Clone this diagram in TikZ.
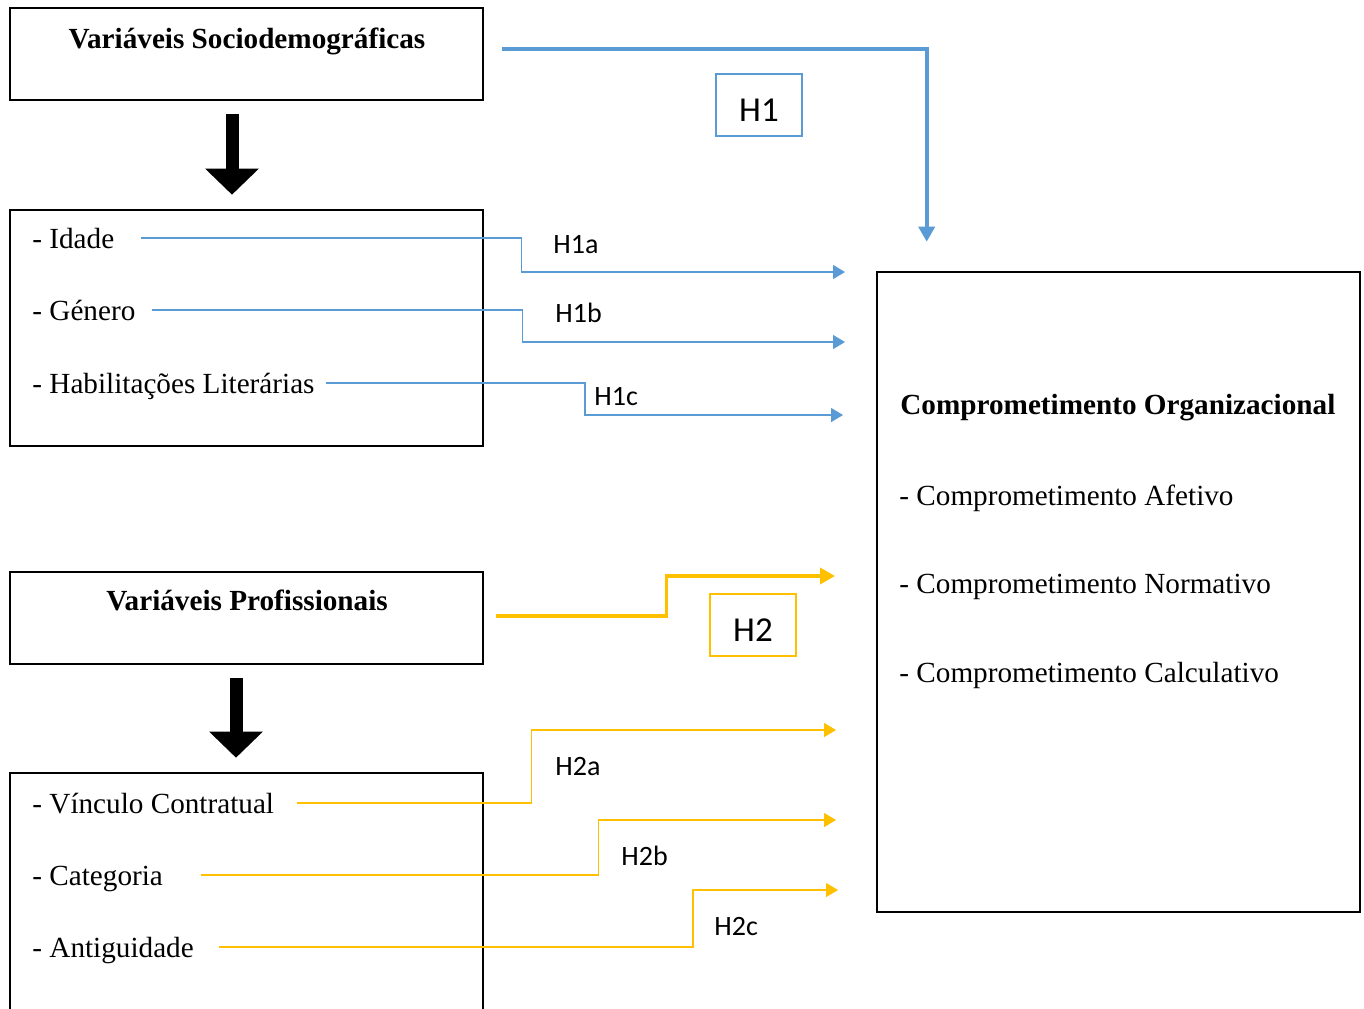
\documentclass[tikz,border=0pt]{standalone}
\usepackage{fontspec}
\setmainfont{Liberation Serif}
\newfontfamily\hypfont{Carlito}
\usetikzlibrary{arrows.meta, positioning}
\definecolor{HBlue}{HTML}{5B9BD5}
\definecolor{HGold}{HTML}{FFC000}

\begin{document}
\begin{tikzpicture}[x=0.5pt, y=-0.5pt,
  box/.style={draw=black, line width=1.3pt, minimum width=236.5pt, inner sep=0pt},
  title/.style={font=\fontsize{14.6}{17}\selectfont\bfseries, anchor=base, inner sep=0pt},
  item/.style={font=\fontsize{14.6}{17}\selectfont, anchor=west, inner sep=0pt, text height=13pt, text depth=3pt},
  hyp/.style={font=\hypfont\fontsize{14}{16}\selectfont, anchor=base west, inner sep=0pt},
  hbox/.style={draw, line width=1.1pt, minimum width=43pt, minimum height=31pt, inner sep=0pt, text height=16.8pt, text depth=0pt, font=\hypfont\fontsize{17.5}{20}\selectfont},
  thin/.style={line width=0.7pt, -{Triangle[length=6pt, width=7pt]}},
  thick/.style={line width=1.8pt, -{Triangle[length=7.5pt, width=8pt]}},
  bigarrow/.style={line width=6.5pt, -{Triangle[length=13pt, width=26pt]}}
]
\useasboundingbox (0,0) rectangle (1364,1008);

% boxes
\node[box, minimum height=46pt] (sd) at (246.5,54) {};
\node[box, minimum height=118pt] (vs) at (246.5,328) {};
\node[box, minimum height=46pt] (vp) at (246.5,618) {};
\node[box, minimum height=128.5pt] (vv) at (246.5,901.5) {};
\node[box, minimum width=241.5pt, minimum height=320pt] (co) at (1118.5,592) {};

\node[title] (sdt) at (247,48) {Variáveis Sociodemográficas};
\node[title] (vpt) at (247,610) {Variáveis Profissionais};
\node[title, anchor=base west] (cot) at (900,414) {Comprometimento Organizacional};

\node[item] (idade) at (32,238) {- Idade};
\node[item] (genero) at (32,310) {- Género};
\node[item] (habil) at (32,383) {- Habilitações Literárias};
\node[item] (vinculo) at (32,803) {- Vínculo Contratual};
\node[item] (categ) at (32,875) {- Categoria};
\node[item] (antig) at (32,947) {- Antiguidade};
\node[item] (afet) at (899,495) {- Comprometimento Afetivo};
\node[item] (norm) at (899,583) {- Comprometimento Normativo};
\node[item] (calc) at (899,672) {- Comprometimento Calculativo};

% hypotheses
\node[hbox, draw=HBlue] (h1) at (759,105) {H1};
\node[hbox, draw=HGold] (h2) at (753,625) {H2};
\node[hyp] (h1a) at (553,253) {H1a};
\node[hyp] (h1b) at (555,322) {H1b};
\node[hyp] (h1c) at (594,405) {H1c};
\node[hyp] (h2a) at (555,775) {H2a};
\node[hyp] (h2b) at (621,865) {H2b};
\node[hyp] (h2c) at (714,935) {H2c};

\coordinate (t1a) at (845,272);
\coordinate (t1b) at (845,342);
\coordinate (t1c) at (843,415);
\coordinate (t2) at (835,576);
\coordinate (t2a) at (836,730);
\coordinate (t2b) at (836,820);
\coordinate (t2c) at (838,890);

\draw[bigarrow] ([shift={(-14.5,13)}]sd.south) -- ([shift={(-14.5,-14)}]vs.north);
\draw[bigarrow] ([shift={(-10.5,13)}]vp.south) -- ([shift={(-10.5,-14)}]vv.north);

\draw[thick, HBlue] ([shift={(18,-5)}]sd.east) -| ([shift={(51,-29)}]co.north west);
\draw[thin, HBlue] ([xshift=13pt]idade.east) -- ++(381,0) |- (t1a);
\draw[thin, HBlue] ([xshift=8pt]genero.east) -- ++(371,0) |- (t1b);
\draw[thin, HBlue] ([xshift=5.5pt]habil.east) -- ++(259,0) |- (t1c);

\draw[thick, HGold] ([shift={(12,-2)}]vp.east) -- ++(170,0) |- (t2);
\draw[thin, HGold] ([xshift=11.5pt]vinculo.east) -- ++(234,0) |- (t2a);
\draw[thin, HGold] ([xshift=19pt]categ.east) -- ++(397,0) |- (t2b);
\draw[thin, HGold] ([xshift=12.5pt]antig.east) -- ++(474,0) |- (t2c);
\end{tikzpicture}
\end{document}
